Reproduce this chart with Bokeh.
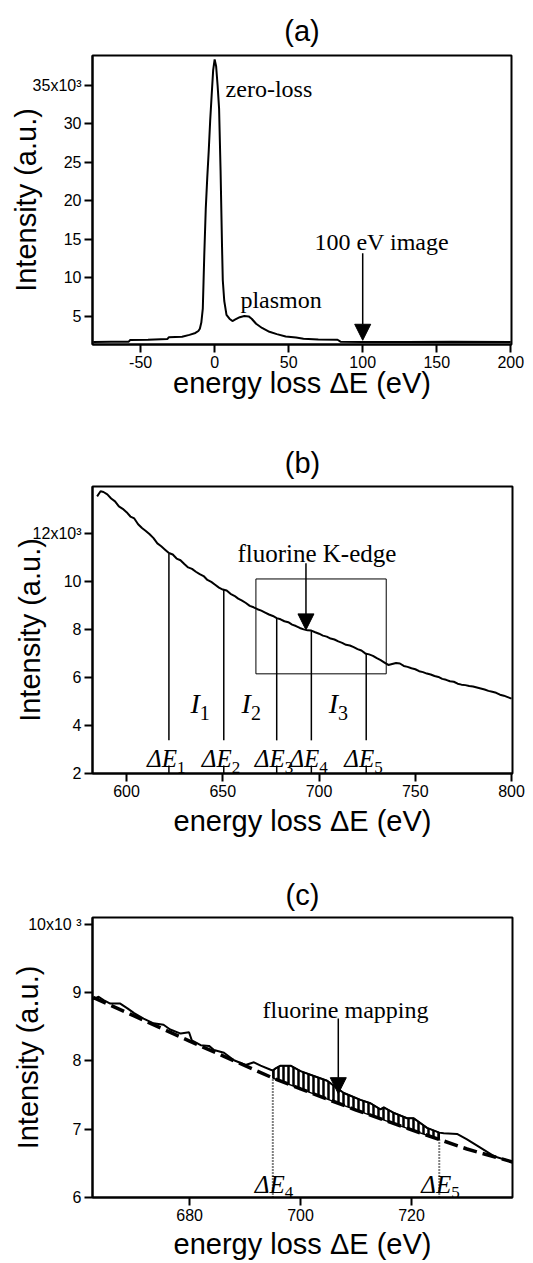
import numpy as np
from bokeh.plotting import figure
from bokeh.layouts import column
from bokeh.models import FixedTicker, Arrow, NormalHead, Range1d
from bokeh.core.properties import value
from bokeh.embed import file_html
from bokeh.resources import INLINE

# ---------------- data: panel (a) ----------------
a_energy = [-82, -70, -58, -57, -45, -32, -31, -22, -17, -13, -11, -10, -9, -8, -7.5, -7, -6, -5, -4, -3,
            -2, -1, 0, 1, 2, 3, 4, 5, 5.5, 6.5, 8, 10, 12, 14, 17, 20, 23, 25, 28, 32,
            37, 42, 48, 55, 60, 70, 83, 85, 100, 130, 160, 200]
a_intensity = [1.68, 1.70, 1.72, 1.95, 1.98, 2.05, 2.28, 2.35, 2.6, 2.85, 3.1, 3.4, 4.2, 6.0, 9.5, 13.0, 19.0, 23.0, 26.5, 30.5,
               33.8, 37.0, 38.4, 37.5, 35.0, 32.0, 24.0, 14.0, 9.7, 7.0, 5.2, 4.7, 4.4, 4.6, 4.9, 5.05, 5.0, 4.7, 4.05, 3.5,
               3.0, 2.7, 2.4, 2.25, 2.1, 2.0, 1.97, 1.72, 1.68, 1.68, 1.70, 1.68]
a_xticks = [-50, 0, 50, 100, 150, 200]
a_xtick_labels = ["-50", "0", "50", "100", "150", "200"]
a_yticks = [5, 10, 15, 20, 25, 30, 35]
a_ytick_labels = ["5", "10", "15", "20", "25", "30", "35x10³"]

# ---------------- data: panel (b) ----------------
b_energy = [584.7, 586.5, 588, 590, 592, 594, 596, 598, 600, 602, 604, 606, 608, 610, 612, 614, 616, 618, 620, 622,
            624, 626, 628, 630, 632, 634, 636, 638, 640, 642, 644, 646, 648, 650, 652, 654, 656, 658, 660, 662,
            664, 666, 668, 670, 672, 674, 676, 678, 680, 682, 684, 686, 688, 690, 692, 694, 696, 698, 700, 702,
            704, 706, 708, 710, 712, 714, 716, 718, 720, 722, 724, 726, 728, 730, 732, 734, 736, 738, 740, 742,
            744, 746, 748, 750, 752, 754, 756, 758, 760, 762, 764, 766, 768, 770, 772, 774, 776, 778, 780, 782,
            784, 786, 788, 790, 792, 794, 796, 798, 800]
b_intensity = [13.54, 13.75, 13.72, 13.62, 13.45, 13.33, 13.12, 13.02, 12.88, 12.70, 12.62, 12.38, 12.22, 12.10, 11.96, 11.80, 11.58, 11.46, 11.32, 11.18,
               11.12, 10.95, 10.88, 10.72, 10.58, 10.52, 10.40, 10.30, 10.22, 10.06, 9.98, 9.86, 9.74, 9.66, 9.62, 9.48, 9.40, 9.28, 9.20, 9.10,
               8.98, 8.92, 8.84, 8.78, 8.70, 8.62, 8.56, 8.47, 8.42, 8.34, 8.30, 8.20, 8.14, 8.06, 8.00, 7.96, 7.95, 7.88, 7.82, 7.74,
               7.70, 7.62, 7.58, 7.50, 7.44, 7.36, 7.33, 7.26, 7.18, 7.12, 7.00, 6.96, 6.90, 6.80, 6.72, 6.62, 6.52, 6.56, 6.60, 6.58,
               6.48, 6.44, 6.38, 6.34, 6.26, 6.22, 6.16, 6.12, 6.06, 6.02, 5.94, 5.90, 5.84, 5.82, 5.74, 5.70, 5.68, 5.64, 5.62, 5.58,
               5.54, 5.50, 5.44, 5.40, 5.36, 5.28, 5.24, 5.18, 5.12]
b_xticks = [600, 650, 700, 750, 800]
b_xtick_labels = ["600", "650", "700", "750", "800"]
b_yticks = [2, 4, 6, 8, 10, 12]
b_ytick_labels = ["2", "4", "6", "8", "10", "12x10³"]
b_edge_x = [622.0, 650.5, 678.0, 696.0, 724.5]
b_edge_top = [11.15, 9.64, 8.46, 7.95, 6.98]
b_edge_sub = ["1", "2", "3", "4", "5"]
b_int_x = [638.0, 664.6, 709.9]
b_int_sub = ["1", "2", "3"]
b_box = [667.2, 734.9, 6.15, 10.1]  # left, right, bottom, top of zoom window

# ---------------- data: panel (c) ----------------
c_energy = [662.6, 663.6, 664.5, 665.7, 667.5, 668.8, 670.0, 671.7, 673.5, 675.3, 676.5, 678.4, 679.9, 680.4, 682.0, 683.5,
            684.4, 686.2, 688.0, 690.1, 691.6, 692.8, 694.6, 695.0, 695.5, 696.4, 698.2, 700.0, 702.4, 704.8, 706.6, 707.8,
            709.0, 710.8, 712.6, 714.4, 715.0, 716.8, 719.2, 720.4, 722.8, 725.0, 725.8, 728.2, 730.0, 732.4, 735.0, 738.2]
c_intensity = [8.90, 8.94, 8.89, 8.84, 8.84, 8.77, 8.70, 8.62, 8.55, 8.53, 8.46, 8.40, 8.42, 8.30, 8.23, 8.22,
               8.16, 8.12, 8.01, 7.94, 7.98, 7.93, 7.87, 7.86, 7.89, 7.93, 7.93, 7.85, 7.78, 7.71, 7.60, 7.53,
               7.49, 7.43, 7.38, 7.29, 7.32, 7.24, 7.16, 7.16, 7.02, 6.95, 6.94, 6.93, 6.85, 6.73, 6.60, 6.52]
c_bg_energy = [662.6, 670, 680, 690, 695, 700, 710, 720, 725, 730, 738.2]
c_bg_intensity = [8.93, 8.66, 8.29, 7.93, 7.75, 7.59, 7.28, 6.99, 6.85, 6.71, 6.52]
c_xticks = [680, 700, 720]
c_xtick_labels = ["680", "700", "720"]
c_yticks = [6, 7, 8, 9, 10]
c_ytick_labels = ["6", "7", "8", "9", "10x10 ³"]
c_edge_x = [695.0, 725.0]
c_edge_sub = ["4", "5"]

SANS = "Liberation Sans"
SERIF = "Liberation Serif"


def make_fig(title, tstand, xr, yr, fw, fh, left, right, top, bottom):
    p = figure(output_backend="svg", toolbar_location=None,
               x_range=Range1d(*xr), y_range=Range1d(*yr),
               frame_width=fw, frame_height=fh,
               min_border_left=left, min_border_right=right,
               min_border_top=top, min_border_bottom=bottom)
    p.title.text = title
    p.title.align = "center"
    p.title.text_font = SANS
    p.title.text_font_style = "normal"
    p.title.text_font_size = "29px"
    p.title.text_color = "black"
    p.title.standoff = tstand
    p.background_fill_color = "white"
    p.border_fill_color = "white"
    p.outline_line_color = "black"
    p.outline_line_width = 2
    p.xgrid.visible = False
    p.ygrid.visible = False
    return p


def style_axes(p, xt, xl, yt, yl, ystand, xstand):
    p.xaxis.ticker = FixedTicker(ticks=xt)
    p.xaxis.major_label_overrides = {t: l for t, l in zip(xt, xl)}
    p.yaxis.ticker = FixedTicker(ticks=yt)
    p.yaxis.major_label_overrides = {t: l for t, l in zip(yt, yl)}
    for ax in (p.xaxis[0], p.yaxis[0]):
        ax.axis_line_width = 2
        ax.axis_line_color = "black"
        ax.major_tick_line_width = 2
        ax.major_tick_line_color = "black"
        ax.major_tick_out = 8
        ax.major_tick_in = 0
        ax.minor_tick_line_color = None
        ax.major_label_text_font = SANS
        ax.major_label_text_font_size = "16px"
        ax.major_label_text_color = "black"
        ax.major_label_standoff = 3
        ax.axis_label_text_font = SANS
        ax.axis_label_text_font_style = "normal"
        ax.axis_label_text_font_size = "29px"
        ax.axis_label_text_color = "black"
    p.xaxis.axis_label = "energy loss ΔE (eV)"
    p.yaxis.axis_label = "Intensity (a.u.)"
    p.yaxis.axis_label_standoff = ystand
    p.xaxis.axis_label_standoff = xstand


head = lambda: NormalHead(size=16, fill_color="black", line_color="black")

# ---------------- panel (a) ----------------
xa, ya = (-82.5, 200.5), (1.35, 38.9)
pa = make_fig("(a)", 18, xa, ya, 419, 289, 90, 24, 55, 81)
style_axes(pa, a_xticks, a_xtick_labels, a_yticks, a_ytick_labels, -12, -4)
pa.line(a_energy, a_intensity, line_color="black", line_width=2)
pa.text(x=[7.4, 17.4, 67.4], y=[34.6, 7.1, 14.7], text=["zero-loss", "plasmon", "100  eV  image"],
        text_font=value(SERIF), text_font_size="24px", text_align="left",
        text_baseline="alphabetic", text_color="black")
pa.add_layout(Arrow(end=head(), x_start=100, y_start=13.2, x_end=100, y_end=1.9,
                    line_color="black", line_width=1.5))

# ---------------- panel (b) ----------------
xb, yb = (582.3, 800.5), (2.0, 13.95)
pb = make_fig("(b)", 15, xb, yb, 420, 287, 90, 23, 61, 77)
style_axes(pb, b_xticks, b_xtick_labels, b_yticks, b_ytick_labels, -16, 5)
pb.line(b_energy, b_intensity, line_color="black", line_width=2)
pb.quad(left=b_box[0], right=b_box[1], bottom=b_box[2], top=b_box[3],
        fill_color=None, line_color="black", line_width=1)
n = len(b_edge_x)
pb.segment(x0=b_edge_x, y0=b_edge_top, x1=b_edge_x, y1=[3.38] * n, line_color="black", line_width=1.5)
pb.segment(x0=b_edge_x, y0=[2.0] * n, x1=b_edge_x, y1=[2.33] * n, line_color="black", line_width=1.5)
pb.text(x=b_edge_x, y=[2.61] * n, text=["ΔE"] * n, x_offset=8,
        text_font=value(SERIF), text_font_style="italic", text_font_size="25px",
        text_align="right", text_baseline="alphabetic", text_color="black")
pb.text(x=b_edge_x, y=[2.24] * n, text=b_edge_sub, x_offset=8,
        text_font=value(SERIF), text_font_size="17px",
        text_align="left", text_baseline="alphabetic", text_color="black")
m = len(b_int_x)
pb.text(x=b_int_x, y=[4.92] * m, text=["I"] * m,
        text_font=value(SERIF), text_font_style="italic", text_font_size="28px",
        text_align="right", text_baseline="alphabetic", text_color="black")
pb.text(x=b_int_x, y=[4.50] * m, text=b_int_sub,
        text_font=value(SERIF), text_font_size="20px",
        text_align="left", text_baseline="alphabetic", text_color="black")
pb.text(x=[700.5], y=[11.17], text=["fluorine  K-edge"],
        text_font=value(SERIF), text_font_size="25px", text_align="center",
        text_baseline="alphabetic", text_color="black")
pb.add_layout(Arrow(end=head(), x_start=693.2, y_start=10.75, x_end=693.2, y_end=7.98,
                    line_color="black", line_width=1.5))

# ---------------- panel (c) ----------------
xc, yc = (662.5, 738.2), (6.0, 10.1)
pc = make_fig("(c)", 14, xc, yc, 420, 280, 92, 21, 67, 66)
style_axes(pc, c_xticks, c_xtick_labels, c_yticks, c_ytick_labels, -19, 4)

# hatched difference between signal and background, from dE4 to dE5
lo, hi = c_edge_x[0], c_edge_x[1]
top_x = [x for x in c_energy if lo <= x <= hi]
top_y = [y for x, y in zip(c_energy, c_intensity) if lo <= x <= hi]
bot_x = [x for x in c_bg_energy if lo <= x <= hi][::-1]
bot_y = [y for x, y in zip(c_bg_energy, c_bg_intensity) if lo <= x <= hi][::-1]
pc.patch(top_x + bot_x, top_y + bot_y, fill_color=None, line_color="black", line_width=1.5,
         hatch_pattern="|", hatch_color="black", hatch_scale=5, hatch_weight=2.5)

pc.line(c_bg_energy, c_bg_intensity, line_color="black", line_width=3.5, line_dash="14 6")
pc.line(c_energy, c_intensity, line_color="black", line_width=2)
edge_top = [y for x, y in zip(c_bg_energy, c_bg_intensity) if x in c_edge_x]
pc.segment(x0=c_edge_x, y0=[6.0] * 2, x1=c_edge_x, y1=edge_top, line_color="black",
           line_width=2, line_dash="1 2")
pc.text(x=c_edge_x, y=[6.19] * 2, text=["ΔE"] * 2, x_offset=12,
        text_font=value(SERIF), text_font_style="italic", text_font_size="25px",
        text_align="right", text_baseline="alphabetic", text_color="black")
pc.text(x=c_edge_x, y=[6.07] * 2, text=c_edge_sub, x_offset=12,
        text_font=value(SERIF), text_font_size="17px",
        text_align="left", text_baseline="alphabetic", text_color="black")
pc.text(x=[708.1], y=[8.75], text=["fluorine mapping"],
        text_font=value(SERIF), text_font_size="24px", text_align="center",
        text_baseline="alphabetic", text_color="black")
pc.add_layout(Arrow(end=head(), x_start=706.8, y_start=8.62, x_end=706.8, y_end=7.52,
                    line_color="black", line_width=1.5))

layout = column(pa, pb, pc, spacing=0)
open("out.html", "w").write(file_html(layout, INLINE))
